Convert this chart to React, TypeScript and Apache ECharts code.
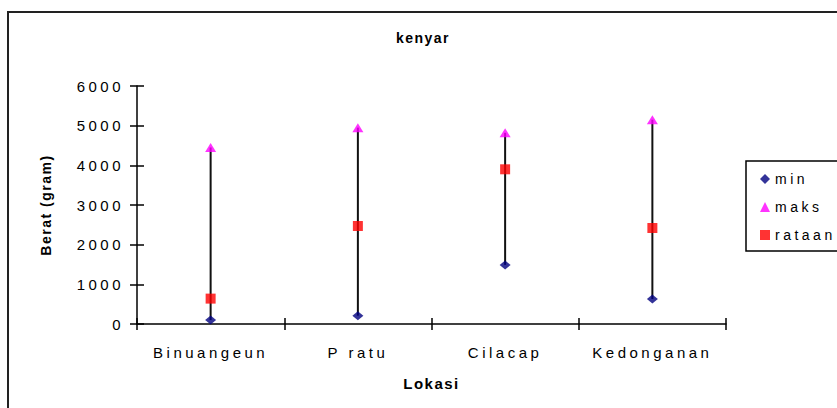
import React, { useEffect, useRef } from "react";
import * as echarts from "echarts";

const categories = ["Binuangeun", "P ratu", "Cilacap", "Kedonganan"];
const minValues = [100, 210, 1490, 630];
const maksValues = [4450, 4950, 4820, 5150];
const rataanValues = [640, 2470, 3900, 2420];
const yTicks = { min: 0, max: 6000, interval: 1000 };

const FONT = "Liberation Sans, Arial, sans-serif";

export default function App() {
  const ref = useRef<HTMLDivElement>(null);
  useEffect(() => {
    document.body.style.margin = "0";
    const chart = echarts.init(ref.current!, null, { renderer: "svg" });
    const grid = { left: 137, right: 111, top: 86, bottom: 84, containLabel: false };
    chart.setOption({
      animation: false,
      backgroundColor: "#ffffff",
      title: {
        text: "kenyar",
        left: 418,
        top: 26,
        textAlign: "center",
        textStyle: { fontFamily: FONT, fontSize: 14, fontWeight: "bold", color: "#000" },
      },
      grid,
      legend: {
        orient: "vertical",
        left: 755,
        top: 167,
        itemWidth: 10,
        itemHeight: 10,
        itemGap: 14,
        data: ["min", "maks", "rataan"],
        textStyle: { fontFamily: FONT, fontSize: 14, color: "#000", padding: [0, 0, 0, 0] },
      },
      graphic: [
        {
          type: "rect",
          shape: { x: 8, y: 12, width: 840, height: 410 },
          style: { fill: "none", stroke: "#222", lineWidth: 2 },
          silent: true,
        },
        {
          type: "rect",
          shape: { x: 746, y: 161, width: 120, height: 90 },
          style: { fill: "none", stroke: "#000", lineWidth: 1.5 },
          silent: true,
        },
      ],
      xAxis: [
        {
          type: "category",
          data: categories,
          boundaryGap: true,
          name: "Lokasi",
          nameLocation: "middle",
          nameGap: 52,
          nameTextStyle: { fontFamily: FONT, fontSize: 15, fontWeight: "bold", color: "#000" },
          axisLine: { lineStyle: { color: "#000", width: 1.5 } },
          axisTick: { show: true, length: 6, lineStyle: { color: "#000", width: 1.5 } },
          axisLabel: { fontFamily: FONT, fontSize: 15, color: "#000", margin: 21 },
          splitLine: { show: false },
        },
        {
          type: "category",
          data: categories,
          boundaryGap: true,
          position: "bottom",
          axisLine: { show: false },
          axisTick: { show: true, inside: true, length: 6, lineStyle: { color: "#000", width: 1.5 } },
          axisLabel: { show: false },
          splitLine: { show: false },
        },
      ],
      yAxis: [
        {
          type: "value",
          ...yTicks,
          name: "Berat (gram)",
          nameLocation: "middle",
          nameGap: 84,
          nameTextStyle: { fontFamily: FONT, fontSize: 14, fontWeight: "bold", color: "#000" },
          axisLine: { show: true, lineStyle: { color: "#000", width: 1.5 } },
          axisTick: { show: true, length: 7, lineStyle: { color: "#000", width: 1.5 } },
          axisLabel: {
            fontFamily: FONT,
            fontSize: 15,
            color: "#000",
            margin: 13,
            formatter: (v: number) => String(v),
          },
          splitLine: { show: false },
        },
        {
          type: "value",
          ...yTicks,
          position: "left",
          axisLine: { show: false },
          axisTick: { show: true, inside: true, length: 7, lineStyle: { color: "#000", width: 1.5 } },
          axisLabel: { show: false },
          splitLine: { show: false },
        },
      ],
      series: [
        {
          type: "custom",
          name: "range",
          xAxisIndex: 0,
          yAxisIndex: 0,
          encode: { x: 0, y: [1, 2] },
          data: categories.map((_, i) => [i, minValues[i], maksValues[i]]),
          renderItem: (_params: any, api: any) => {
            const i = api.value(0);
            const lo = api.coord([i, api.value(1)]);
            const hi = api.coord([i, api.value(2)]);
            return {
              type: "line",
              shape: { x1: lo[0], y1: lo[1], x2: hi[0], y2: hi[1] },
              style: { stroke: "#111", lineWidth: 2 },
            };
          },
          z: 1,
        },
        {
          type: "scatter",
          name: "min",
          data: minValues,
          symbol: "diamond",
          symbolSize: [11, 9],
          itemStyle: { color: "#000080" },
          z: 3,
        },
        {
          type: "scatter",
          name: "maks",
          data: maksValues,
          symbol: "triangle",
          symbolSize: [11, 9],
          itemStyle: { color: "#FF00FF" },
          z: 3,
        },
        {
          type: "scatter",
          name: "rataan",
          data: rataanValues,
          symbol: "rect",
          symbolSize: 10,
          itemStyle: { color: "#FF0000" },
          z: 3,
        },
      ],
    });
    return () => chart.dispose();
  }, []);
  return (
    <>
      <style>{`.kchart text{letter-spacing:3.5px}.kchart text[style*="bold"],.kchart text[font-weight="bold"]{letter-spacing:1.5px}`}</style>
      <div className="kchart" ref={ref} style={{ width: 837, height: 408 }} />
    </>
  );
}
